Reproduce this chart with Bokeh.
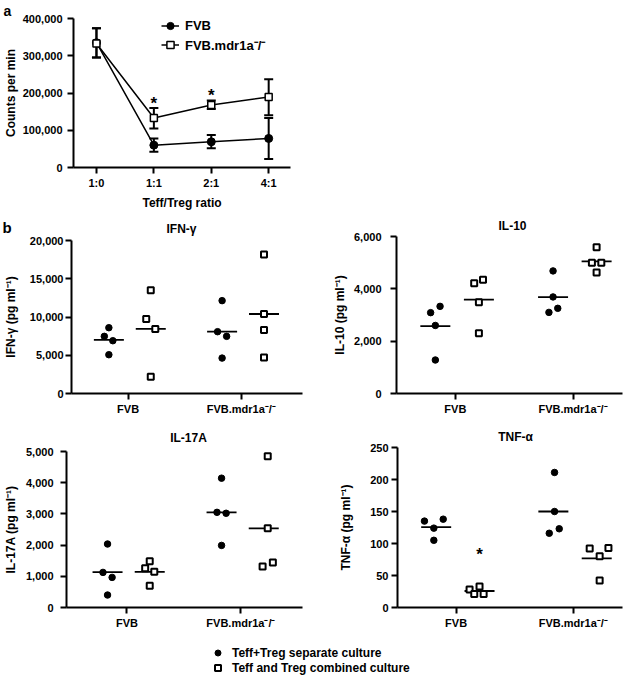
import numpy as np
from bokeh.plotting import figure
from bokeh.layouts import column, row
from bokeh.models import (Range1d, FixedTicker, NumeralTickFormatter, Whisker, TeeHead,
                          ColumnDataSource, Legend, LegendItem)
from bokeh.embed import file_html
from bokeh.resources import INLINE
from bokeh.core.properties import value

FONT = "Liberation Sans"

# ---------------- Panel a data ----------------
ratios = ["1:0", "1:1", "2:1", "4:1"]
fvb_cpm = [335000, 60000, 69000, 78000]
fvb_lo = [295000, 42000, 52000, 23000]
fvb_hi = [374000, 78000, 87000, 133000]
mdr_cpm = [333000, 133000, 168000, 189000]
mdr_lo = [295000, 105000, 157000, 140000]
mdr_hi = [374000, 160000, 180000, 237000]
sig_ratios = ["1:1", "2:1"]
cpm_ticks = [0, 100000, 200000, 300000, 400000]
series_names = ["FVB", "FVB.mdr1a⁻/⁻"]

# ---------------- Panel b data ----------------
strains = ["FVB", "FVB.mdr1a⁻/⁻"]
cultures = ["Teff+Treg separate culture", "Teff and Treg combined culture"]

ifn_sep = [[8600, 7470, 6900, 5070], [12140, 8080, 7470, 4630]]
ifn_comb = [[13490, 9740, 8430, 2180], [18170, 10390, 8300, 4720]]
ifn_ticks = [0, 5000, 10000, 15000, 20000]

il10_sep = [[3330, 3090, 2600, 1280], [4685, 3690, 3255, 3100]]
il10_comb = [[4350, 4210, 3485, 2300], [5590, 5000, 5000, 4620]]
il10_ticks = [0, 2000, 4000, 6000]

il17_sep = [[2035, 1125, 965, 400], [4145, 3050, 3020, 1990]]
il17_comb = [[1480, 1255, 1145, 695], [4850, 2540, 1445, 1315]]
il17_ticks = [0, 1000, 2000, 3000, 4000, 5000]

tnf_sep = [[138, 135, 124, 105], [211, 150, 123, 116]]
tnf_comb = [[33, 28, 21, 21], [93, 92, 80, 42]]
tnf_ticks = [0, 50, 100, 150, 200, 250]
tnf_sig_strain = "FVB"
tnf_sig_value = 83

# horizontal spread of the dots (category units)
ifn_jit_sep = [[0, -0.04, 0.035, 0], [0, -0.04, 0.04, 0]]
ifn_jit_comb = [[0, -0.04, 0.04, 0], [0, 0, 0, 0]]
il10_jit_sep = [[0.04, -0.04, 0, 0], [0, 0, 0.04, -0.035]]
il10_jit_comb = [[0.035, -0.04, 0, 0], [0, -0.04, 0.04, 0]]
il17_jit_sep = [[0, -0.04, 0.04, 0], [0, -0.04, 0.04, 0]]
il17_jit_comb = [[0, -0.04, 0.04, 0], [0.035, 0.035, 0.08, -0.01]]
tnf_jit_sep = [[0.06, -0.1, -0.02, -0.02], [0.01, 0.01, 0.05, -0.035]]
tnf_jit_comb = [[0, -0.085, -0.045, 0.035], [0.1, -0.06, 0.025, 0.025]]

SEP_OFF = -0.17
COMB_OFF = 0.2


def style_axes(p, xstand=3, ystand=4, ylab_stand=2, xlab_stand=3):
    p.outline_line_color = None
    p.xgrid.visible = False
    p.ygrid.visible = False
    for ax in p.axis:
        ax.axis_line_width = 2
        ax.axis_line_color = "black"
        ax.major_tick_line_width = 2
        ax.major_tick_line_color = "black"
        ax.major_tick_in = 0
        ax.major_tick_out = 6
        ax.minor_tick_line_color = None
        ax.major_label_text_font = FONT
        ax.major_label_text_font_style = "bold"
        ax.major_label_text_font_size = "11px"
        ax.major_label_text_color = "black"
        ax.axis_label_text_font = FONT
        ax.axis_label_text_font_style = "bold"
        ax.axis_label_text_font_size = "12px"
        ax.axis_label_text_color = "black"
    p.xaxis.major_label_standoff = xstand
    p.yaxis.major_label_standoff = ystand
    p.yaxis.axis_label_standoff = ylab_stand
    p.xaxis.axis_label_standoff = xlab_stand


def header(width, height, texts):
    """A strip above a panel that holds the panel letter and title (pixel coordinates)."""
    h = figure(width=width, height=height, x_range=Range1d(0, width), y_range=Range1d(0, height),
               output_backend="svg", toolbar_location=None, min_border=0,
               x_axis_location=None, y_axis_location=None, frame_align=False)
    h.outline_line_color = None
    h.xgrid.visible = False
    h.ygrid.visible = False
    for txt, x, y, size, align in texts:
        h.text(x=[x], y=[y], text=[txt], text_align=align, text_baseline="middle",
               text_font=value(FONT), text_font_style="bold", text_font_size=size,
               text_color="black")
    return h


# ---------------- Panel a ----------------
xa = np.arange(1, len(ratios) + 1)
pa = figure(width=320, height=212, x_range=Range1d(0.6, 4.38), y_range=Range1d(0, 400000),
            output_backend="svg", toolbar_location=None, frame_align=False,
            min_border_left=72, min_border_right=30, min_border_top=17, min_border_bottom=42)
pa.title.text = "a"
pa.title.align = "left"
pa.title.offset = -70
pa.title.standoff = 0
pa.title.text_font = FONT
pa.title.text_font_style = "bold"
pa.title.text_font_size = "14px"
pa.title.text_color = "black"
pa.xaxis.axis_label = "Teff/Treg ratio"
pa.yaxis.axis_label = "Counts per min"
pa.xaxis.ticker = FixedTicker(ticks=[float(v) for v in xa])
pa.xaxis.major_label_overrides = {int(v): r for v, r in zip(xa, ratios)}
pa.yaxis.ticker = FixedTicker(ticks=cpm_ticks)
pa.yaxis.formatter = NumeralTickFormatter(format="0,0")
style_axes(pa, xstand=3, ystand=5, ylab_stand=2, xlab_stand=4)

src_f = ColumnDataSource(dict(x=xa, y=fvb_cpm, lo=fvb_lo, hi=fvb_hi))
src_m = ColumnDataSource(dict(x=xa, y=mdr_cpm, lo=mdr_lo, hi=mdr_hi))
for src in (src_f, src_m):
    pa.add_layout(Whisker(source=src, base="x", upper="hi", lower="lo", line_width=2,
                          line_color="black",
                          upper_head=TeeHead(size=9, line_width=2, line_color="black"),
                          lower_head=TeeHead(size=9, line_width=2, line_color="black")))
lf_r = pa.line("x", "y", source=src_f, line_width=1.5, line_color="black")
sf_r = pa.scatter("x", "y", source=src_f, marker="circle", size=8, fill_color="black",
                  line_color="black")
lm_r = pa.line("x", "y", source=src_m, line_width=1.5, line_color="black")
sm_r = pa.scatter("x", "y", source=src_m, marker="square", size=7, fill_color="white",
                  line_color="black", line_width=1.5)

sig_idx = [ratios.index(r) for r in sig_ratios]
pa.text(x=[xa[i] for i in sig_idx], y=[mdr_hi[i] + 13000 for i in sig_idx],
        text=["*"] * len(sig_idx), text_align="center", text_baseline="middle",
        text_font=value(FONT), text_font_size="17px", text_font_style="bold",
        text_color="black")

leg_a = Legend(items=[LegendItem(label=series_names[0], renderers=[lf_r, sf_r]),
                      LegendItem(label=series_names[1], renderers=[lm_r, sm_r])],
               location=(88, 113), padding=0, margin=0, spacing=0,
               glyph_width=18, glyph_height=19, label_height=19, label_standoff=6,
               label_text_font=FONT, label_text_font_style="bold",
               label_text_font_size="13px", label_text_color="black",
               border_line_color=None, background_fill_alpha=0)
pa.add_layout(leg_a)


# ---------------- Panel b ----------------
def dot_panel(ylabel, sep, comb, jit_sep, jit_comb, ticks, fmt, width, height,
              left, right, top, bottom, xr, ystand, ylab_stand):
    p = figure(width=width, height=height, x_range=Range1d(*xr),
               y_range=Range1d(ticks[0], ticks[-1]),
               output_backend="svg", toolbar_location=None, frame_align=False,
               min_border_left=left, min_border_right=right,
               min_border_top=top, min_border_bottom=bottom)
    p.yaxis.axis_label = ylabel
    p.yaxis.ticker = FixedTicker(ticks=ticks)
    p.yaxis.formatter = NumeralTickFormatter(format=fmt)
    p.xaxis.ticker = FixedTicker(ticks=[float(i + 1) for i in range(len(strains))])
    p.xaxis.major_label_overrides = {i + 1: s for i, s in enumerate(strains)}
    style_axes(p, xstand=3, ystand=ystand, ylab_stand=ylab_stand)

    xs_sep, ys_sep, xs_comb, ys_comb = [], [], [], []
    for g in range(len(strains)):
        for v, j in zip(sep[g], jit_sep[g]):
            xs_sep.append(g + 1 + SEP_OFF + j)
            ys_sep.append(v)
        for v, j in zip(comb[g], jit_comb[g]):
            xs_comb.append(g + 1 + COMB_OFF + j)
            ys_comb.append(v)
    mean_x = [g + 1 + SEP_OFF for g in range(len(strains))] + \
             [g + 1 + COMB_OFF for g in range(len(strains))]
    mean_y = [float(np.mean(s)) for s in sep] + [float(np.mean(c)) for c in comb]
    p.scatter(mean_x, mean_y, marker="dash", size=30, line_width=1.8, line_color="black")
    p.scatter(xs_sep, ys_sep, marker="circle", size=6.5, fill_color="black",
              line_color="black")
    p.scatter(xs_comb, ys_comb, marker="square", size=6, fill_color="white",
              line_color="black", line_width=2)
    return p


hdr_ifn = header(320, 24, [("b", 2, 9.4, "15px", "left"), ("IFN-γ", 181, 7.5, "12px", "center")])
p_ifn = dot_panel("IFN-γ (pg ml⁻¹)", ifn_sep, ifn_comb, ifn_jit_sep, ifn_jit_comb,
                  ifn_ticks, "0,0", 320, 189, 68, 18, 4, 32, (0.5, 2.54), 2, 9)
hdr_il10 = header(316, 20, [("IL-10", 192, 7.0, "12px", "center")])
p_il10 = dot_panel("IL-10 (pg ml⁻¹)", il10_sep, il10_comb, il10_jit_sep, il10_jit_comb,
                   il10_ticks, "0,0", 316, 193, 76, 14, 4, 32, (0.5, 2.42), 9, 4)
hdr_il17 = header(320, 20, [("IL-17A", 188, 7.4, "12px", "center")])
p_il17 = dot_panel("IL-17A (pg ml⁻¹)", il17_sep, il17_comb, il17_jit_sep, il17_jit_comb,
                   il17_ticks, "0,0", 320, 192, 64, 18, 6, 30, (0.47, 2.54), 7, 5)
hdr_tnf = header(316, 18, [("TNF-α", 195, 7.0, "12px", "center")])
p_tnf = dot_panel("TNF-α (pg ml⁻¹)", tnf_sep, tnf_comb, tnf_jit_sep, tnf_jit_comb,
                  tnf_ticks, "0", 316, 194, 77, 14, 4, 30, (0.5, 2.42), 3, 14)
p_tnf.text(x=[strains.index(tnf_sig_strain) + 1 + COMB_OFF], y=[tnf_sig_value], text=["*"],
           text_align="center", text_baseline="middle", text_font=value(FONT),
           text_font_size="17px", text_font_style="bold", text_color="black")

# ---------------- bottom legend ----------------
pl = figure(width=636, height=43, x_range=Range1d(0, 1), y_range=Range1d(0, 1),
            output_backend="svg", toolbar_location=None, min_border=0, frame_align=False,
            x_axis_location=None, y_axis_location=None)
pl.outline_line_color = None
pl.xgrid.visible = False
pl.ygrid.visible = False
r_sep = pl.scatter([-5], [-5], marker="circle", size=6.5, fill_color="black",
                   line_color="black")
r_comb = pl.scatter([-5], [-5], marker="square", size=6, fill_color="white",
                    line_color="black", line_width=2)
leg_b = Legend(items=[LegendItem(label=cultures[0], renderers=[r_sep]),
                      LegendItem(label=cultures[1], renderers=[r_comb])],
               location=(210, 5), padding=0, margin=0, spacing=0,
               glyph_width=15, glyph_height=15, label_height=15, label_standoff=7,
               label_text_font=FONT, label_text_font_style="bold",
               label_text_font_size="12px", label_text_color="black",
               border_line_color=None, background_fill_alpha=0)
pl.add_layout(leg_b)

layout = column(
    pa,
    row(column(hdr_ifn, p_ifn), column(hdr_il10, p_il10)),
    row(column(hdr_il17, p_il17), column(hdr_tnf, p_tnf)),
    pl,
)
open("out.html", "w").write(file_html(layout, INLINE))
